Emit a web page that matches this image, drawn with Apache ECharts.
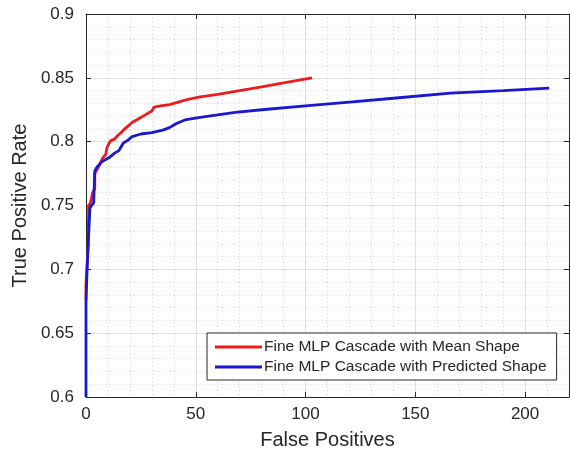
<!DOCTYPE html>
<html><head><meta charset="utf-8">
<script src="https://cdn.jsdelivr.net/npm/echarts@6/dist/echarts.min.js"></script>
<style>html,body{margin:0;padding:0;background:#fff}#c{width:570px;height:456px}</style>
</head><body><div id="c"></div>
<script>
const seriesNames = ['Fine MLP Cascade with Mean Shape', 'Fine MLP Cascade with Predicted Shape'];
const meanShape = [[0,0.676],[0,0.688],[0.5,0.688],[1,0.72],[1.2,0.75],[2,0.752],[3,0.76],[4,0.763],[4,0.775],[5,0.778],[6,0.781],[7.5,0.787],[9,0.79],[9.5,0.795],[10.5,0.799],[11.5,0.801],[13,0.802],[14.5,0.805],[16,0.807],[17,0.809],[19,0.812],[21,0.815],[24,0.818],[27,0.821],[30,0.824],[31,0.827],[34,0.828],[38,0.829],[42,0.831],[46,0.833],[52,0.835],[60,0.837],[70,0.840],[80,0.843],[90,0.846],[103,0.850]];
const predictedShape = [[0,0.6],[0,0.675],[0.5,0.7],[1,0.72],[1.5,0.72],[1.8,0.748],[2.5,0.75],[3.5,0.752],[4,0.752],[4,0.777],[5,0.78],[7,0.784],[9,0.786],[11,0.788],[13,0.791],[15,0.793],[16,0.796],[17,0.799],[19,0.801],[21,0.804],[25,0.806],[30,0.807],[35,0.809],[38,0.811],[41,0.814],[45,0.817],[52,0.819],[60,0.821],[68,0.823],[80,0.825],[100,0.828],[120,0.831],[140,0.834],[166,0.838],[190,0.840],[211,0.842]];
const xTicks = [0,50,100,150,200];
const yTicks = [0.6,0.65,0.7,0.75,0.8,0.85,0.9];

const ink = '#262626';
const font = 'Liberation Sans, Arial, Helvetica, sans-serif';
const minorLine = {show:true, lineStyle:{color:'#d2d2d2', width:1, type:[1,3]}};
const hidden = {show:false};
const chart = echarts.init(document.getElementById('c'), null, {renderer:'canvas'});
chart.setOption({
  animation:false,
  backgroundColor:'#fff',
  grid:{left:86, right:1, top:14, bottom:59, containLabel:false},
  legend:{
    orient:'vertical', left:207, top:333,
    data:seriesNames, icon:'rect',
    backgroundColor:'#fff', borderColor:ink, borderWidth:1,
    padding:[6,10,5,8], itemGap:4, itemWidth:47, itemHeight:3,
    textStyle:{fontFamily:font, fontSize:15.5, color:ink, padding:[0,0,0,-3]}
  },
  xAxis:[
    {type:'value', position:'top', min:0, max:220, interval:10,
     axisLine:hidden, axisTick:hidden, axisLabel:hidden, splitLine:minorLine},
    {type:'value', position:'bottom', min:0, max:220, interval:50,
     name:'False Positives', nameLocation:'middle', nameGap:33,
     nameTextStyle:{fontFamily:font, fontSize:20, color:ink},
     axisLine:{show:true, onZero:false, lineStyle:{color:ink, width:1}},
     axisTick:{show:true, inside:true, length:5, lineStyle:{color:ink}, customValues:xTicks},
     axisLabel:{fontFamily:font, fontSize:17, color:ink, margin:9, customValues:xTicks},
     splitLine:{show:true, lineStyle:{color:'#e0e0e0', width:1}}},
    {type:'value', position:'top', min:0, max:220, interval:50,
     axisLine:{show:true, onZero:false, lineStyle:{color:ink, width:1}},
     axisTick:{show:true, inside:true, length:5, lineStyle:{color:ink}, customValues:xTicks},
     axisLabel:hidden, splitLine:hidden}
  ],
  yAxis:[
    {type:'value', position:'right', min:0.6, max:0.9, interval:0.01,
     axisLine:hidden, axisTick:hidden, axisLabel:hidden, splitLine:minorLine},
    {type:'value', position:'left', min:0.6, max:0.9, interval:0.05,
     name:'True Positive Rate', nameLocation:'middle', nameGap:56,
     nameTextStyle:{fontFamily:font, fontSize:20, color:ink},
     axisLine:{show:true, onZero:false, lineStyle:{color:ink, width:1}},
     axisTick:{show:true, inside:true, length:5, lineStyle:{color:ink}, customValues:yTicks},
     axisLabel:{fontFamily:font, fontSize:17, color:ink, margin:12, customValues:yTicks},
     splitLine:{show:true, lineStyle:{color:'#e0e0e0', width:1}}},
    {type:'value', position:'right', min:0.6, max:0.9, interval:0.05,
     axisLine:{show:true, onZero:false, lineStyle:{color:ink, width:1}},
     axisTick:{show:true, inside:true, length:5, lineStyle:{color:ink}, customValues:yTicks},
     axisLabel:hidden, splitLine:hidden}
  ],
  series:[
    {name:seriesNames[0], type:'line', xAxisIndex:1, yAxisIndex:1, data:meanShape, symbol:'none',
     lineStyle:{color:'#ec1c1c', width:2.8}, itemStyle:{color:'#ec1c1c'}, z:3},
    {name:seriesNames[1], type:'line', xAxisIndex:1, yAxisIndex:1, data:predictedShape, symbol:'none',
     lineStyle:{color:'#1818d2', width:2.8}, itemStyle:{color:'#1818d2'}, z:4}
  ]
});
</script></body></html>
